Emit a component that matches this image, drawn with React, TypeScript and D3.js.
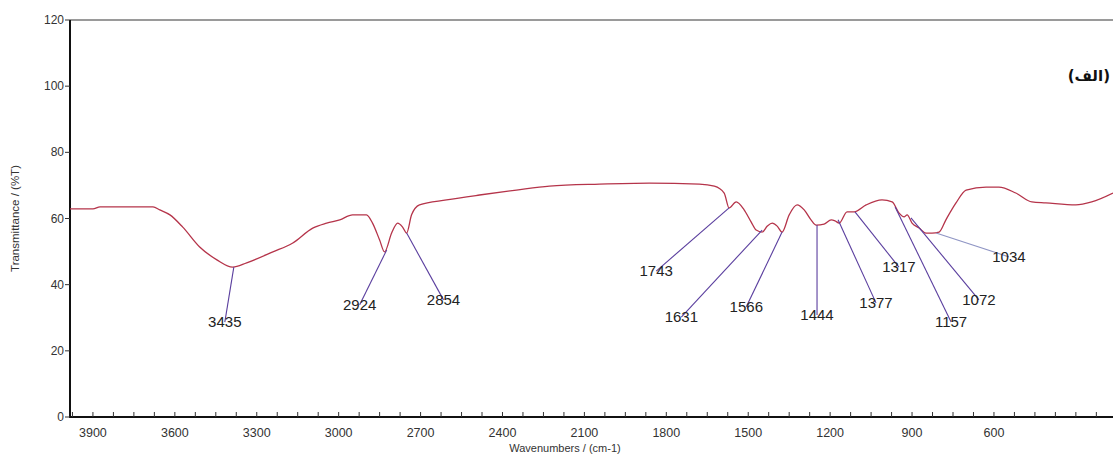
import React from "react";
import * as d3 from "d3";

// spectrum (axis units)
const wavenumbers = [
  3984, 3900, 3874, 3680, 3655, 3618, 3571, 3509, 3446, 3388, 3337, 3241, 3168, 3095, 3044, 2996, 2949, 2898, 2876,
  2850, 2832, 2806, 2784, 2766, 2751, 2733, 2704, 2605, 2484, 2349, 2228, 2045, 1862, 1679, 1624, 1588, 1570, 1544,
  1515, 1489, 1471, 1449, 1430, 1412, 1394, 1376, 1350, 1321, 1295, 1270, 1251, 1222, 1196, 1182, 1167, 1138, 1112,
  1068, 1010, 973, 948, 929, 918, 900, 874, 849, 827, 801, 776, 739, 702, 629, 582, 520, 461, 410, 300, 242, 164,
];
const transmittance = [
  62.9, 62.9, 63.5, 63.5, 62.6, 61.1, 57.4, 51.4, 47.5, 45.3, 46.6, 49.9, 52.6, 57.1, 58.6, 59.6, 61.1, 61.1, 58.6,
  53.5, 49.9, 55.6, 58.6, 57.4, 55.6, 61.1, 64.1, 65.6, 67.1, 68.6, 69.8, 70.4, 70.7, 70.4, 69.8, 67.7, 63.2, 65.0,
  62.6, 58.9, 56.5, 55.9, 57.7, 58.6, 57.7, 55.9, 61.1, 64.1, 62.6, 59.6, 58.0, 58.3, 59.6, 59.3, 58.6, 62.0, 62.0,
  64.1, 65.6, 65.0, 61.7, 60.5, 61.1, 58.6, 57.1, 55.6, 55.6, 55.9, 59.6, 64.7, 68.6, 69.5, 69.5, 67.7, 65.0, 64.7,
  64.1, 65.0, 67.7,
];

// peak picks: label, point on curve, where the label sits
const peakLabels = ["3435", "2924", "2854", "1743", "1631", "1566", "1444", "1377", "1317", "1157", "1072", "1034"];
const peakWn = [3384, 2824, 2751, 1570, 1449, 1376, 1248, 1171, 1109, 962, 904, 812];
const peakT = [45.3, 50.5, 55.6, 63.2, 56.5, 55.9, 58.0, 59.6, 62.0, 63.5, 60.2, 55.6];
const labelWn = [3417, 2923, 2616, 1837, 1745, 1507, 1248, 1032, 948, 757, 655, 545];
const labelT = [28.7, 33.9, 35.4, 44.1, 30.2, 33.3, 30.8, 34.5, 45.3, 28.7, 35.4, 48.4];

const xTickLabels = [3900, 3600, 3300, 3000, 2700, 2400, 2100, 1800, 1500, 1200, 900, 600];
const yTickLabels = [0, 20, 40, 60, 80, 100, 120];

export default function App() {
  const width = 1113;
  const height = 459;
  const left = 70;
  const top = 20;
  const bottom = 417;

  const x = d3.scaleLinear().domain([3984, 164]).range([left, width]);
  const y = d3.scaleLinear().domain([0, 120]).range([bottom, top]);

  const line = d3
    .line<number>()
    .x((d, i) => x(wavenumbers[i]))
    .y((d) => y(d))
    .curve(d3.curveMonotoneX);

  const minorTicks = d3.range(3975, 170, -75);
  const font = "'Liberation Sans', Arial, sans-serif";

  return (
    <svg
      width={width}
      height={height}
      style={{ position: "absolute", left: 0, top: 0, background: "#fff" }}
      fontFamily={font}
    >
      <rect x={0} y={0} width={width} height={height} fill="#fff" />

      {/* frame */}
      <line x1={left} x2={width} y1={top} y2={top} stroke="#9a9a9a" strokeWidth={2} />
      <line x1={left} x2={left} y1={top} y2={bottom + 1} stroke="#111" strokeWidth={2} />
      <line x1={left - 1} x2={width} y1={bottom} y2={bottom} stroke="#111" strokeWidth={2} />

      {/* x ticks */}
      {minorTicks.map((t) => (
        <line key={t} x1={x(t)} x2={x(t)} y1={bottom} y2={bottom - 5} stroke="#333" strokeWidth={1} />
      ))}
      {xTickLabels.map((t) => (
        <text key={t} x={x(t)} y={bottom + 20} textAnchor="middle" fontSize={12.5} fill="#333">
          {t}
        </text>
      ))}
      <text x={565} y={bottom + 35} textAnchor="middle" fontSize={11} fill="#333">
        Wavenumbers / (cm-1)
      </text>

      {/* y ticks */}
      {yTickLabels.map((t) => (
        <g key={t}>
          <line x1={left - 5} x2={left} y1={y(t)} y2={y(t)} stroke="#333" strokeWidth={1} />
          <text x={left - 6} y={y(t) + 4} textAnchor="end" fontSize={12} fill="#333">
            {t}
          </text>
        </g>
      ))}
      <text
        transform={`translate(19,${y(60)}) rotate(-90)`}
        textAnchor="middle"
        fontSize={11.5}
        fill="#333"
      >
        Transmittance / (%T)
      </text>

      {/* spectrum */}
      <path d={line(transmittance) ?? ""} fill="none" stroke="#b5344a" strokeWidth={1.3} strokeLinejoin="round" />

      {/* peak picks */}
      {peakLabels.map((lab, i) => (
        <g key={lab}>
          <line
            x1={x(peakWn[i])}
            y1={y(peakT[i])}
            x2={x(labelWn[i])}
            y2={y(labelT[i])}
            stroke={lab === "1034" ? "#8f95c4" : "#5a3e9e"}
            strokeWidth={1.1}
          />
          <text x={x(labelWn[i])} y={y(labelT[i]) + 5} textAnchor="middle" fontSize={15} fill="#222">
            {lab}
          </text>
        </g>
      ))}

      {/* panel label */}
      <text x={1110} y={81} textAnchor="end" fontSize={15} fontWeight="bold" fill="#111" fontFamily="'DejaVu Sans', sans-serif">
        (الف)
      </text>
    </svg>
  );
}
